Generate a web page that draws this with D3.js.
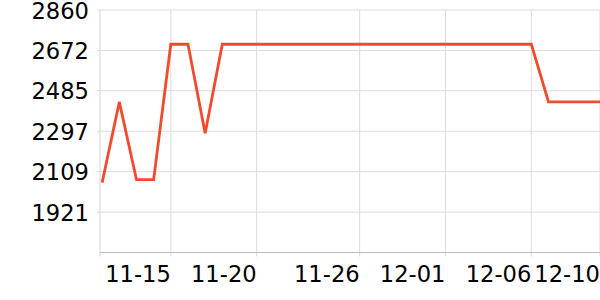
<!DOCTYPE html>
<html><head><meta charset="utf-8">
<script src="https://cdn.jsdelivr.net/npm/d3@7"></script>
<style>body{margin:0;background:#fff}svg{display:block}</style>
</head><body>
<svg id="c" width="600" height="300"></svg>
<script>
const dates = ["2023-11-11","2023-11-12","2023-11-13","2023-11-14","2023-11-15","2023-11-16","2023-11-17","2023-11-18","2023-11-19","2023-11-20",
"2023-11-21","2023-11-22","2023-11-23","2023-11-24","2023-11-25","2023-11-26","2023-11-27","2023-11-28","2023-11-29","2023-11-30",
"2023-12-01","2023-12-02","2023-12-03","2023-12-04","2023-12-05","2023-12-06","2023-12-07","2023-12-08","2023-12-09","2023-12-10"];
const values = [2058,2433,2072,2072,2701,2701,2287,2701,2701,2701,
2701,2701,2701,2701,2701,2701,2701,2701,2701,2701,
2701,2701,2701,2701,2701,2701,2433,2433,2433,2433];
const xTickDates = ["2023-11-15","2023-11-20","2023-11-26","2023-12-01","2023-12-06","2023-12-10"];
const xTickLabels = ["11-15","11-20","11-26","12-01","12-06","12-10"];
const yTicks = [1921,2109,2297,2485,2672,2860];
const yDomain = [1733.5, 2860];
const xDomain = ["2023-11-10T21:00:00Z","2023-12-10T00:00:00Z"];

const svg = d3.select("#c");
const m = {l:100, r:0, t:10, b:47.5};
const W = 600, H = 300;
const parse = s => new Date(s.length===10 ? s+"T00:00:00Z" : s);
const x = d3.scaleUtc().domain(xDomain.map(parse)).range([m.l, W-m.r]);
const y = d3.scaleLinear().domain(yDomain).range([H-m.b, m.t]);
const font = "DejaVu Sans, sans-serif";

// horizontal gridlines
svg.append("g").selectAll("line").data(yTicks).join("line")
  .attr("x1", m.l-3).attr("x2", W-m.r)
  .attr("y1", d=>y(d)).attr("y2", d=>y(d))
  .attr("stroke", "#dcdcdc").attr("stroke-width", 1);
// vertical gridlines
svg.append("g").selectAll("line").data(xTickDates).join("line")
  .attr("x1", d=>x(parse(d))).attr("x2", d=>x(parse(d)))
  .attr("y1", m.t).attr("y2", H-m.b+4)
  .attr("stroke", "#dcdcdc").attr("stroke-width", 1);
// left axis line
svg.append("line").attr("x1", m.l).attr("x2", m.l).attr("y1", m.t).attr("y2", H-m.b+4)
  .attr("stroke", "#d4d4d4").attr("stroke-width", 1);
// bottom axis line
svg.append("line").attr("x1", m.l).attr("x2", W).attr("y1", H-m.b).attr("y2", H-m.b)
  .attr("stroke", "#bbbbbb").attr("stroke-width", 1);

// y labels
svg.append("g").selectAll("text").data(yTicks).join("text")
  .attr("x", m.l-11).attr("y", d=>y(d)).attr("dy", "0.38em")
  .attr("text-anchor", "end").attr("font-family", font).attr("font-size", 22.6)
  .attr("fill", "#000").text(d=>d);
// x labels
svg.append("g").selectAll("text").data(xTickDates).join("text")
  .attr("x", d=>x(parse(d))).attr("y", 281.5)
  .attr("text-anchor", "end").attr("font-family", font).attr("font-size", 22.6)
  .attr("fill", "#000").text((d,i)=>xTickLabels[i]);

// line
const data = dates.map((d,i)=>({d:parse(d), v:values[i]}));
svg.append("path").datum(data)
  .attr("fill", "none").attr("stroke", "#ef4b2c").attr("stroke-width", 2.8)
  .attr("stroke-linejoin", "miter")
  .attr("d", d3.line().x(p=>x(p.d)).y(p=>y(p.v)));
</script>
</body></html>
